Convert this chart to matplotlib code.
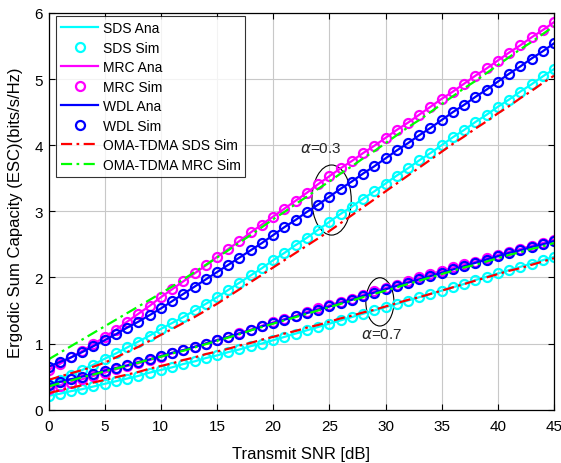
import matplotlib
matplotlib.use("Agg")
import matplotlib.pyplot as plt
from matplotlib.patches import Ellipse
import numpy as np

plt.rcParams['font.family'] = ['Liberation Sans', 'DejaVu Sans']

snr_db = list(range(0, 46))

# alpha = 0.3
mrc03 = [0.60,0.69,0.79,0.89,0.99,1.10,1.21,1.33,1.45,1.57,1.70,1.82,1.94,2.06,2.18,2.31,2.43,2.55,2.68,2.80,
         2.92,3.04,3.16,3.28,3.41,3.53,3.65,3.76,3.88,3.99,4.11,4.23,4.34,4.46,4.58,4.70,4.81,4.93,5.05,5.16,
         5.28,5.40,5.51,5.63,5.74,5.86]
wdl03 = [0.65,0.72,0.79,0.87,0.96,1.05,1.14,1.24,1.33,1.43,1.53,1.64,1.75,1.86,1.97,2.08,2.19,2.30,2.41,2.52,
         2.64,2.76,2.87,2.99,3.10,3.22,3.34,3.45,3.57,3.68,3.80,3.92,4.03,4.15,4.26,4.38,4.50,4.61,4.73,4.84,
         4.96,5.08,5.19,5.31,5.42,5.54]
sds03 = [0.38,0.45,0.53,0.60,0.68,0.77,0.85,0.94,1.03,1.12,1.22,1.31,1.40,1.50,1.60,1.70,1.81,1.92,2.03,2.14,
         2.26,2.37,2.49,2.60,2.72,2.84,2.96,3.07,3.19,3.30,3.42,3.54,3.65,3.77,3.88,4.00,4.12,4.23,4.35,4.46,
         4.58,4.69,4.81,4.92,5.04,5.15]
oma_sds03 = [0.45,0.50,0.55,0.60,0.65,0.71,0.79,0.87,0.95,1.04,1.13,1.22,1.31,1.40,1.50,1.60,1.71,1.82,1.93,2.04,
             2.15,2.26,2.37,2.48,2.59,2.70,2.82,2.94,3.06,3.18,3.30,3.42,3.54,3.66,3.78,3.90,4.02,4.13,4.25,4.36,
             4.48,4.59,4.71,4.82,4.94,5.05]
oma_mrc03 = [0.76,0.86,0.96,1.06,1.16,1.26,1.36,1.46,1.56,1.66,1.76,1.86,1.97,2.08,2.19,2.30,2.41,2.53,2.64,2.76,
             2.88,2.99,3.11,3.22,3.34,3.45,3.57,3.68,3.80,3.91,4.03,4.15,4.27,4.38,4.50,4.62,4.74,4.86,4.97,5.09,
             5.21,5.33,5.45,5.56,5.68,5.80]

# alpha = 0.7
wdl07 = [0.38,0.42,0.46,0.50,0.54,0.59,0.63,0.67,0.72,0.76,0.81,0.86,0.90,0.95,1.00,1.05,1.10,1.15,1.20,1.26,
         1.31,1.36,1.41,1.46,1.51,1.56,1.61,1.66,1.72,1.77,1.82,1.87,1.92,1.97,2.02,2.07,2.12,2.17,2.22,2.27,
         2.32,2.37,2.41,2.46,2.50,2.55]
mrc07 = [0.31,0.36,0.41,0.46,0.51,0.56,0.61,0.66,0.70,0.75,0.80,0.85,0.90,0.95,1.00,1.05,1.10,1.16,1.21,1.27,
         1.32,1.37,1.42,1.48,1.53,1.58,1.63,1.68,1.74,1.79,1.84,1.89,1.94,2.00,2.05,2.10,2.15,2.20,2.24,2.29,
         2.34,2.39,2.43,2.48,2.52,2.57]
oma_mrc07 = [0.35,0.40,0.44,0.49,0.53,0.58,0.62,0.67,0.71,0.76,0.80,0.85,0.89,0.94,0.99,1.04,1.09,1.14,1.20,1.25,
             1.30,1.35,1.40,1.45,1.50,1.55,1.60,1.65,1.70,1.75,1.80,1.85,1.90,1.95,2.00,2.05,2.10,2.15,2.19,2.24,
             2.29,2.34,2.38,2.43,2.47,2.52]
sds07 = [0.21,0.24,0.28,0.31,0.35,0.39,0.43,0.47,0.51,0.56,0.60,0.64,0.69,0.73,0.78,0.82,0.87,0.91,0.96,1.00,
         1.05,1.10,1.15,1.20,1.25,1.30,1.35,1.40,1.45,1.50,1.55,1.60,1.65,1.70,1.75,1.80,1.85,1.90,1.96,2.01,
         2.06,2.11,2.16,2.21,2.26,2.31]
oma_sds07 = [0.25,0.29,0.33,0.37,0.41,0.45,0.49,0.53,0.57,0.62,0.66,0.70,0.75,0.79,0.84,0.88,0.92,0.97,1.01,1.06,
             1.10,1.15,1.19,1.24,1.28,1.33,1.38,1.42,1.47,1.51,1.56,1.61,1.66,1.70,1.75,1.80,1.85,1.90,1.95,2.00,
             2.05,2.10,2.14,2.19,2.24,2.29]

legend_labels = ["SDS Ana", "SDS Sim", "MRC Ana", "MRC Sim", "WDL Ana", "WDL Sim",
                 "OMA-TDMA SDS Sim", "OMA-TDMA MRC Sim"]
x_ticks = [0, 5, 10, 15, 20, 25, 30, 35, 40, 45]
y_ticks = [0, 1, 2, 3, 4, 5, 6]

CY, MG, BL, RD, GR = '#00FFFF', '#FF00FF', '#0000FF', '#FF0000', '#00FF00'
lw = 1.6
ms = 6.5
mew = 1.6

fig = plt.figure(figsize=(5.61, 4.64), dpi=100)
ax = fig.add_axes([0.0865, 0.115, 0.901, 0.855])

handles = []
for grp in [(sds03, mrc03, wdl03, oma_sds03, oma_mrc03), (sds07, mrc07, wdl07, oma_sds07, oma_mrc07)]:
    s, m, w, os_, om = grp
    h1, = ax.plot(snr_db, s, '-', color=CY, lw=lw)
    h2, = ax.plot(snr_db, s, 'o', color=CY, mfc='none', ms=ms, mew=mew)
    h3, = ax.plot(snr_db, m, '-', color=MG, lw=lw)
    h4, = ax.plot(snr_db, m, 'o', color=MG, mfc='none', ms=ms, mew=mew)
    h5, = ax.plot(snr_db, w, '-', color=BL, lw=lw)
    h6, = ax.plot(snr_db, w, 'o', color=BL, mfc='none', ms=ms, mew=mew)
    h7, = ax.plot(snr_db, os_, '-.', color=RD, lw=lw, dashes=(5, 2, 1.2, 2))
    h8, = ax.plot(snr_db, om, '-.', color=GR, lw=lw, dashes=(5, 2, 1.2, 2))
    if not handles:
        handles = [h1, h2, h3, h4, h5, h6, h7, h8]

ax.set_xlim(0, 45)
ax.set_ylim(0, 6)
ax.set_xticks(x_ticks)
ax.set_yticks(y_ticks)
ax.tick_params(direction='in', top=True, right=True, labelsize=11, length=4, width=0.8)
ax.tick_params(axis='x', pad=7)
ax.tick_params(axis='y', pad=4)
ax.grid(True, color='#c8c8c8', lw=0.8)
ax.set_axisbelow(True)
for sp in ax.spines.values():
    sp.set_linewidth(0.9)
ax.set_xlabel("Transmit SNR [dB]", fontsize=12, labelpad=9)
ax.set_ylabel("Ergodic Sum Capacity (ESC)(bits/s/Hz)", fontsize=12, labelpad=8)

leg = ax.legend(handles, legend_labels, loc='upper left', bbox_to_anchor=(0.015, 0.992),
                fontsize=10, frameon=True, fancybox=False, edgecolor='black',
                handlelength=2.7, handletextpad=0.3, labelspacing=0.40, borderpad=0.35,
                borderaxespad=0.0)
leg.get_frame().set_linewidth(0.8)

ax.add_patch(Ellipse((25.2, 3.17), 3.5, 1.06, fill=False, ec='black', lw=0.8))
ax.add_patch(Ellipse((29.5, 1.63), 2.5, 0.73, fill=False, ec='black', lw=0.8))
ax.text(24.2, 3.95, r"$\alpha$=0.3", fontsize=11, ha='center', va='center', color='#262626')
ax.text(29.7, 1.15, r"$\alpha$=0.7", fontsize=11, ha='center', va='center', color='#262626')

fig.savefig("out.png", dpi=100)
